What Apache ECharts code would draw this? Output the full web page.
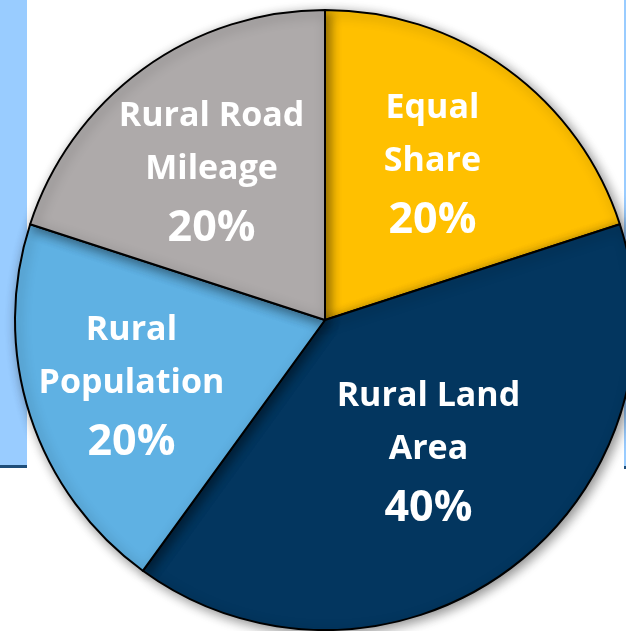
<!DOCTYPE html>
<html>
<head>
<meta charset="utf-8">
<script src="https://cdn.jsdelivr.net/npm/echarts@6/dist/echarts.min.js"></script>
<style>
html,body{margin:0;padding:0;background:#fff;}
#chart{width:626px;height:631px;}
</style>
</head>
<body>
<div id="chart"></div>
<script>
var categories = ['Equal Share', 'Rural Land Area', 'Rural Population', 'Rural Road Mileage'];
var labelLines = ['Equal\nShare', 'Rural Land\nArea', 'Rural\nPopulation', 'Rural Road\nMileage'];
var values = [20, 40, 20, 20];
var colors = ['#FFC000', '#03365F', '#5FB1E3', '#AEAAAA'];

var chart = echarts.init(document.getElementById('chart'), null, {renderer: 'canvas'});

var visData = categories.map(function (c, i) {
  return { name: c, value: values[i], itemStyle: { color: colors[i] } };
});
var labelOffsets = [[-6, 4], [-10, -20], [-10, 10], [0, 12]];
var labData = categories.map(function (c, i) {
  return {
    name: c, value: values[i],
    label: { offset: labelOffsets[i] }
  };
});

var font = '"Open Sans", Lato, sans-serif';
chart.setOption({
  animation: false,
  graphic: [
    { type: 'rect', z: 0, shape: { x: 0, y: 0, width: 27, height: 466 }, style: { fill: '#99CCFF' } },
    { type: 'rect', z: 0, shape: { x: 0, y: 465, width: 27, height: 3 }, style: { fill: '#1F4E79' } },
    { type: 'rect', z: 0, shape: { x: 624, y: 0, width: 2, height: 467 }, style: { fill: '#99CCFF' } },
    { type: 'rect', z: 0, shape: { x: 624, y: 466, width: 2, height: 3 }, style: { fill: '#1F4E79' } }
  ],
  series: [
    {
      type: 'pie',
      z: 2,
      center: [325, 320],
      radius: [0, 310],
      startAngle: 90,
      clockwise: true,
      silent: true,
      label: { show: false },
      labelLine: { show: false },
      itemStyle: {
        borderColor: '#000',
        borderWidth: 2,
        shadowBlur: 12,
        shadowColor: 'rgba(0,0,0,0.45)',
        shadowOffsetX: 3,
        shadowOffsetY: 3
      },
      data: visData
    },
    {
      type: 'pie',
      z: 3,
      center: [325, 320],
      radius: [0, 380],
      startAngle: 90,
      clockwise: true,
      silent: true,
      itemStyle: { color: 'rgba(0,0,0,0)', borderWidth: 0 },
      labelLine: { show: false },
      label: {
        show: true,
        position: 'inside',
        formatter: function (p) {
          var lines = labelLines[p.dataIndex].split('\n');
          return lines.map(function (l) { return '{n|' + l + '}'; }).join('\n') + '\n{p|' + p.value + '%}';
        },
        rich: {
          n: { color: '#fff', fontFamily: font, fontWeight: 'bold', fontSize: 34, lineHeight: 53, align: 'center' },
          p: { color: '#fff', fontFamily: font, fontWeight: 'bold', fontSize: 43, lineHeight: 66, align: 'center' }
        }
      },
      data: labData
    }
  ]
});
</script>
</body>
</html>
